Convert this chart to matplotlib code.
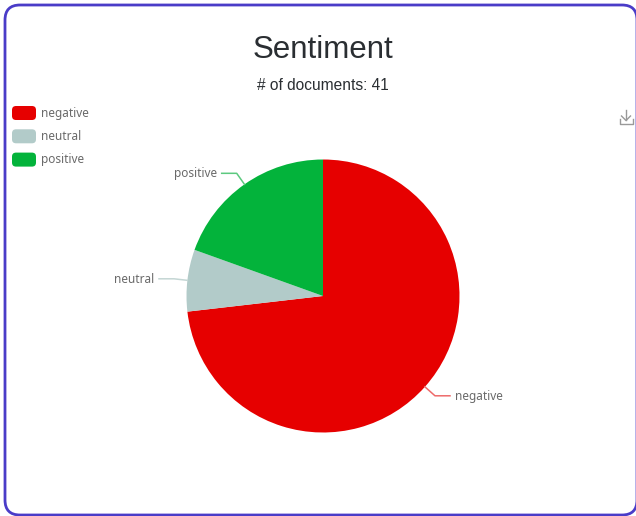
import numpy as np
import matplotlib
matplotlib.use("Agg")
import matplotlib.pyplot as plt
from matplotlib.patches import FancyBboxPatch

title = "Sentiment"
subtitle = "# of documents: 41"
categories = ["negative", "neutral", "positive"]
counts = [30, 3, 8]
colors = ["#e60000", "#b2cbc9", "#03b33b"]
line_colors = ["#ee6a6a", "#c4d6d4", "#5cc97f"]

W, H = 636, 516
CX, CY, R = 323, 296, 136.5
ELBOW_R = 150
LINE2 = 15
LABEL_FONT = "Noto Sans"


def py(y):
    # pixel rows from the top -> axes coords
    return H - y


fig = plt.figure(figsize=(W / 100, H / 100), dpi=100)
ax = fig.add_axes([0, 0, 1, 1])

# card border
ax.add_patch(FancyBboxPatch((5, py(515)), 632, 510, boxstyle="round,pad=0,rounding_size=15",
                            fc="white", ec="#4a3cc8", lw=2.0, clip_on=False))

ax.text(323, py(50.5), title, fontsize=22.5, family="Liberation Sans", color="#2a2e32",
        ha="center", va="center")
ax.text(322.5, py(85), subtitle, fontsize=11.2, family="Liberation Sans", color="#2a2e32",
        ha="center", va="center")

ax.pie(counts, colors=colors, startangle=90, counterclock=False, center=(CX, py(CY)), radius=R,
       frame=True)
ax.set_xlim(0, W)
ax.set_ylim(0, H)
ax.set_aspect("equal")
ax.axis("off")

# leader lines from each slice's mid angle
total = sum(counts)
start = 0
for name, n, lc in zip(categories, counts, line_colors):
    mid = np.radians(start + n / total * 360 / 2)
    start += n / total * 360
    sx, cx = np.sin(mid), np.cos(mid)
    x0, y0 = CX + R * sx, py(CY) + R * cx
    x1, y1 = CX + ELBOW_R * sx, py(CY) + ELBOW_R * cx
    side = 1 if sx > 0 else -1
    x2 = x1 + side * LINE2
    ax.plot([x0, x1, x2], [y0, y1, y1], color=lc, lw=1.1, solid_joinstyle="round")
    ax.text(x2 + side * 5, y1 - 0.5, name, fontsize=8.5, family=LABEL_FONT, color="#6a6a6a",
            ha="left" if side > 0 else "right", va="center")

# legend
for i, (name, col) in enumerate(zip(categories, colors)):
    y = 113 + i * 23.3
    ax.add_patch(FancyBboxPatch((12, py(y + 7)), 24, 14, boxstyle="round,pad=0,rounding_size=4",
                                fc=col, ec="none"))
    ax.text(41, py(y), name, fontsize=8.5, family=LABEL_FONT, color="#6a6a6a", ha="left", va="center")

# download icon
icon = "#999999"
ax.plot([626, 626], [py(110), py(120)], color=icon, lw=1)
ax.plot([621.5, 626, 630.5], [py(116), py(120.5), py(116)], color=icon, lw=1)
ax.plot([619.5, 619.5, 632.5, 632.5], [py(119), py(123.5), py(123.5), py(119)], color=icon, lw=1)

fig.savefig("out.png", dpi=100, facecolor="white")
